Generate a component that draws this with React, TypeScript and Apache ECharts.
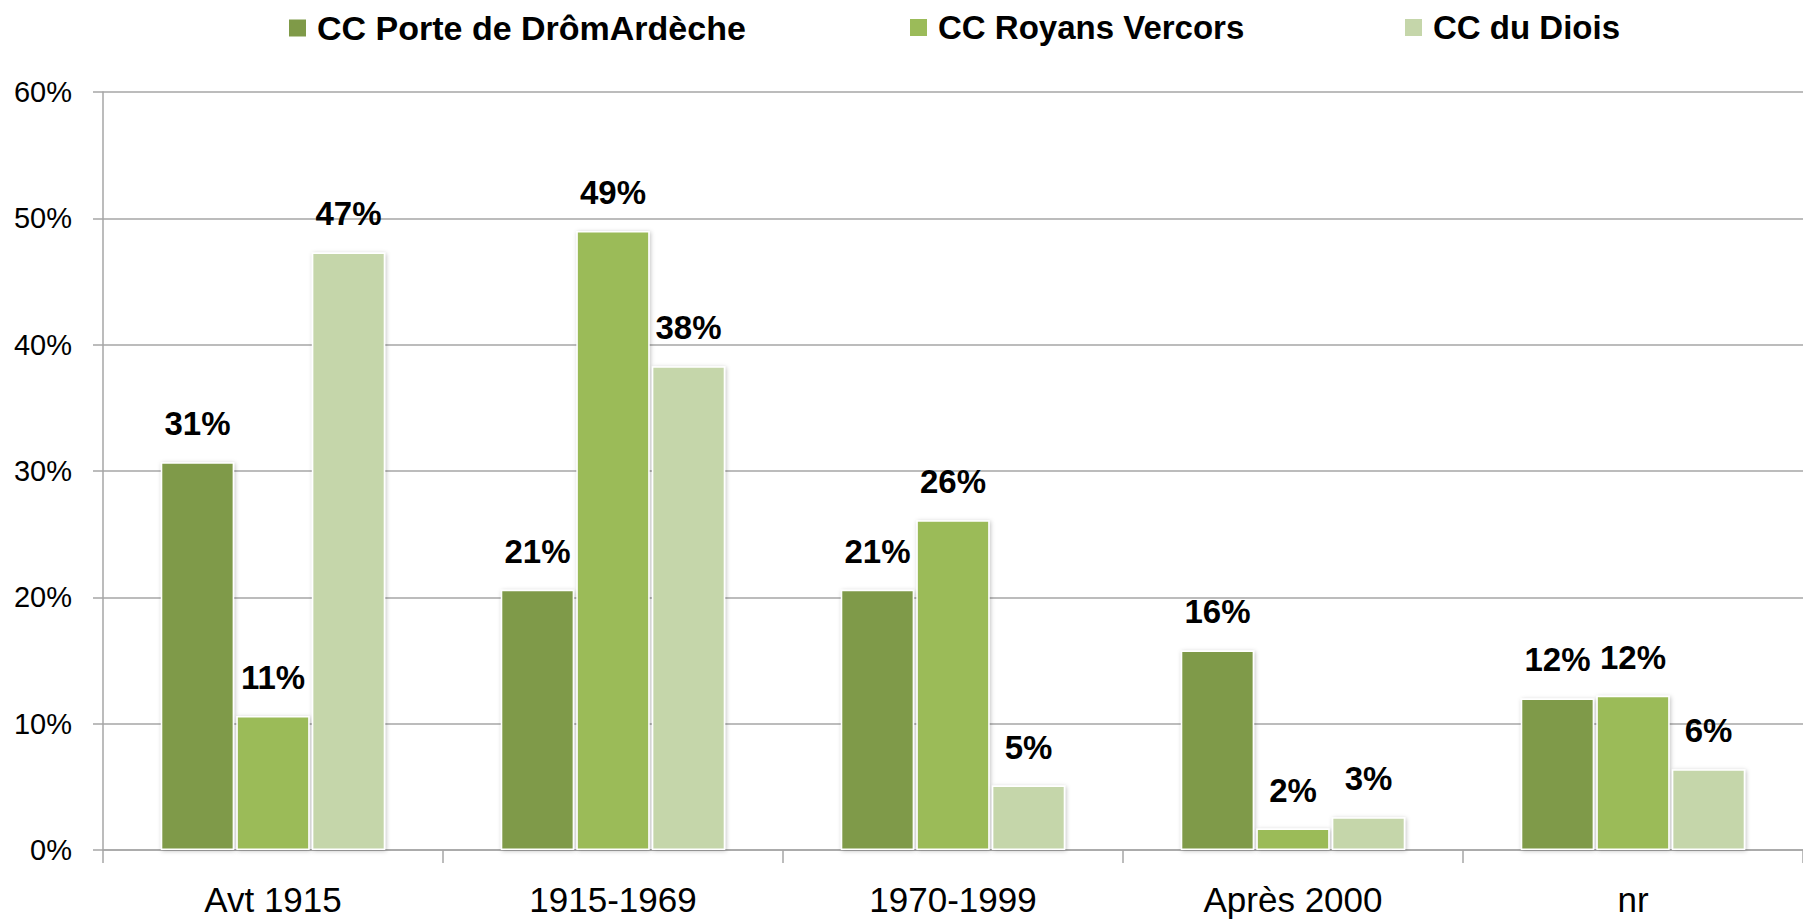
import React, { useEffect, useRef } from "react";
import * as echarts from "echarts";

const categories = ["Avt 1915", "1915-1969", "1970-1999", "Après 2000", "nr"];
const seriesNames = ["CC Porte de DrômArdèche", "CC Royans Vercors", "CC du Diois"];
const porteValues = [30.7, 20.6, 20.6, 15.8, 12.0];
const royansValues = [10.6, 49.0, 26.1, 1.7, 12.2];
const dioisValues = [47.3, 38.3, 5.1, 2.6, 6.4];
const colors = ["#7f9a48", "#9bbb59", "#c5d6aa"];
const legendLefts = [287, 908, 1403];

export default function App() {
  const ref = useRef<HTMLDivElement>(null);
  useEffect(() => {
    document.body.style.margin = "0";
    if (!ref.current) return;
    const chart = echarts.init(ref.current, undefined, { renderer: "svg" });
    const font = "'Liberation Sans', Arial, sans-serif";
    const values = [porteValues, royansValues, dioisValues];
    chart.setOption({
      animation: false,
      backgroundColor: "#ffffff",
      textStyle: { fontFamily: font },
      legend: seriesNames.map((name, i) => ({
        left: legendLefts[i],
        top: 11,
        padding: 0,
        itemWidth: 19,
        itemHeight: 19,
        icon: "rect",
        data: [name],
        textStyle: {
          fontFamily: font,
          fontSize: i === 0 ? 34 : 33,
          fontWeight: "bold",
          color: "#000",
          padding: [0, 0, 0, 5],
        },
      })),
      grid: { left: 103, right: 0, top: 92, bottom: 70, containLabel: false },
      xAxis: {
        type: "category",
        data: categories,
        axisLine: { lineStyle: { color: "#a6a6a6", width: 1.5 } },
        axisTick: { show: true, length: 13, alignWithLabel: false, lineStyle: { color: "#a6a6a6", width: 1.5 } },
        axisLabel: { fontFamily: font, fontSize: 35, color: "#000", margin: 32 },
      },
      yAxis: {
        type: "value",
        min: 0,
        max: 60,
        interval: 10,
        axisLine: { show: true, lineStyle: { color: "#a6a6a6", width: 1.5 } },
        axisTick: { show: true, length: 10, lineStyle: { color: "#a6a6a6", width: 1.5 } },
        splitLine: { lineStyle: { color: "#a6a6a6", width: 1.5 } },
        axisLabel: { fontFamily: font, fontSize: 29, color: "#000", margin: 31, formatter: "{value}%" },
      },
      series: seriesNames.map((name, i) => ({
        name,
        type: "bar",
        data: values[i],
        barCategoryGap: "34%",
        barGap: "3%",
        itemStyle: {
          color: colors[i],
          borderColor: "#ffffff",
          borderWidth: 1.5,
          shadowBlur: 4,
          shadowColor: "rgba(0,0,0,0.25)",
          shadowOffsetX: 1,
          shadowOffsetY: 1,
        },
        label: {
          show: true,
          position: "top",
          distance: 22,
          fontFamily: font,
          fontSize: 33,
          fontWeight: "bold",
          color: "#000",
          formatter: (p: any) => Math.round(p.value) + "%",
        },
      })),
    });
    return () => chart.dispose();
  }, []);
  return <div ref={ref} style={{ width: 1803, height: 920 }} />;
}
